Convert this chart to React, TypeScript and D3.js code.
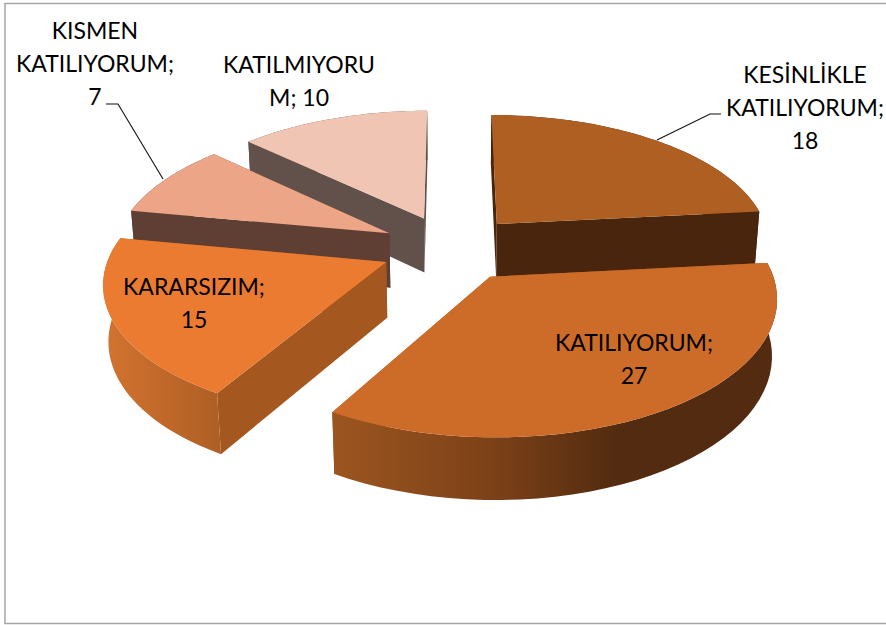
import * as d3 from "d3";

const categories = ["KESİNLİKLE KATILIYORUM", "KATILIYORUM", "KARARSIZIM", "KISMEN KATILIYORUM", "KATILMIYORUM"];
const values = [18, 27, 15, 7, 10];

const topColors = ["#b05f22", "#cd6c28", "#ea7b30", "#eda587", "#f1c5b4"];
const wallColors = ["#48250c", "#a4571f", "#a4571f", "#5f3f33", "#62504a"];
const drawOrder = [4, 0, 3, 2, 1];

const labelLines = [
    ["KESİNLİKLE", "KATILIYORUM;", "18"],
    ["KATILIYORUM;", "27"],
    ["KARARSIZIM;", "15"],
    ["KISMEN", "KATILIYORUM;", "7"],
    ["KATILMIYORU", "M; 10"],
];
const labelAnchors = [
    [805, 83],
    [634, 351],
    [194, 295],
    [95, 39],
    [299, 73],
];

const width = 886;
const height = 625;

// perspective fitted to the picture
const gx = 451;
const gy = 248;
const scaleX = 275;
const scaleY = 130;
const thickness = 56;
const persp = 0.137;
const perspBottom = 0.015;
const explode = 0.255;

function project(u: number, v: number, z: number): [number, number] {
    const s = 1 + persp * v + perspBottom * z;
    return [gx + (scaleX * u) / s, gy + (-scaleY * v + thickness * z) / s];
}

const arcs = d3
    .pie<number>()
    .sort(null)
    .startAngle(0)
    .endAngle(2 * Math.PI)(values);

const line = d3.line();

function slicePaths(i: number) {
    const { startAngle, endAngle } = arcs[i];
    const mid = (startAngle + endAngle) / 2;
    const ox = explode * Math.sin(mid);
    const oy = explode * Math.cos(mid);
    const angles = d3.range(41).map((t) => startAngle + ((endAngle - startAngle) * t) / 40);
    const rim = (z: number) =>
        angles.map((a) => project(ox + Math.sin(a), oy + Math.cos(a), z));
    const apexTop = project(ox, oy, 0);
    const apexBottom = project(ox, oy, 1);
    const rimTop = rim(0);
    const rimBottom = rim(1);
    return {
        top: line([apexTop, ...rimTop]) + "Z",
        rim: line([...rimTop, ...[...rimBottom].reverse()]) + "Z",
        wallStart: line([apexTop, rimTop[0], rimBottom[0], apexBottom]) + "Z",
        wallEnd: line([apexTop, rimTop[40], rimBottom[40], apexBottom]) + "Z",
    };
}

const rimFills = ["#48250c", "url(#rim2)", "url(#rim3)", "#5f3f33", "#62504a"];

export default function App() {
    return (
        <svg
            width={width}
            height={height}
            style={{ position: "absolute", left: 0, top: 0, background: "#fff" }}
            fontFamily="Lato, 'Open Sans', sans-serif"
        >
            <defs>
                <linearGradient id="rim2" gradientUnits="userSpaceOnUse" x1={335} x2={620} y1={0} y2={0}>
                    <stop offset="0" stopColor="#9c5520" />
                    <stop offset="0.55" stopColor="#7c4118" />
                    <stop offset="1" stopColor="#522b10" />
                </linearGradient>
                <linearGradient id="rim3" gradientUnits="userSpaceOnUse" x1={105} x2={222} y1={0} y2={0}>
                    <stop offset="0" stopColor="#d27330" />
                    <stop offset="1" stopColor="#ae5e24" />
                </linearGradient>
            </defs>
            <rect x={5} y={3.5} width={890} height={620} fill="#fff" stroke="#a6a6a6" strokeWidth={1.5} />
            {drawOrder.map((i) => {
                const p = slicePaths(i);
                return (
                    <g key={categories[i]}>
                        <path d={p.wallStart} fill={wallColors[i]} />
                        <path d={p.wallEnd} fill={wallColors[i]} />
                        <path d={p.rim} fill={rimFills[i]} />
                        <path d={p.top} fill={topColors[i]} />
                    </g>
                );
            })}
            <path d="M106,104H118L163,179" fill="none" stroke="#111" strokeWidth={1.1} />
            <path d="M721,114H710L657,140" fill="none" stroke="#111" strokeWidth={1.1} />
            {labelLines.map((lines, i) => (
                <text key={i} fontSize={23} fill="#000" textAnchor="middle">
                    {lines.map((t, j) => (
                        <tspan key={j} x={labelAnchors[i][0]} y={labelAnchors[i][1] + j * 33}>
                            {t}
                        </tspan>
                    ))}
                </text>
            ))}
        </svg>
    );
}
